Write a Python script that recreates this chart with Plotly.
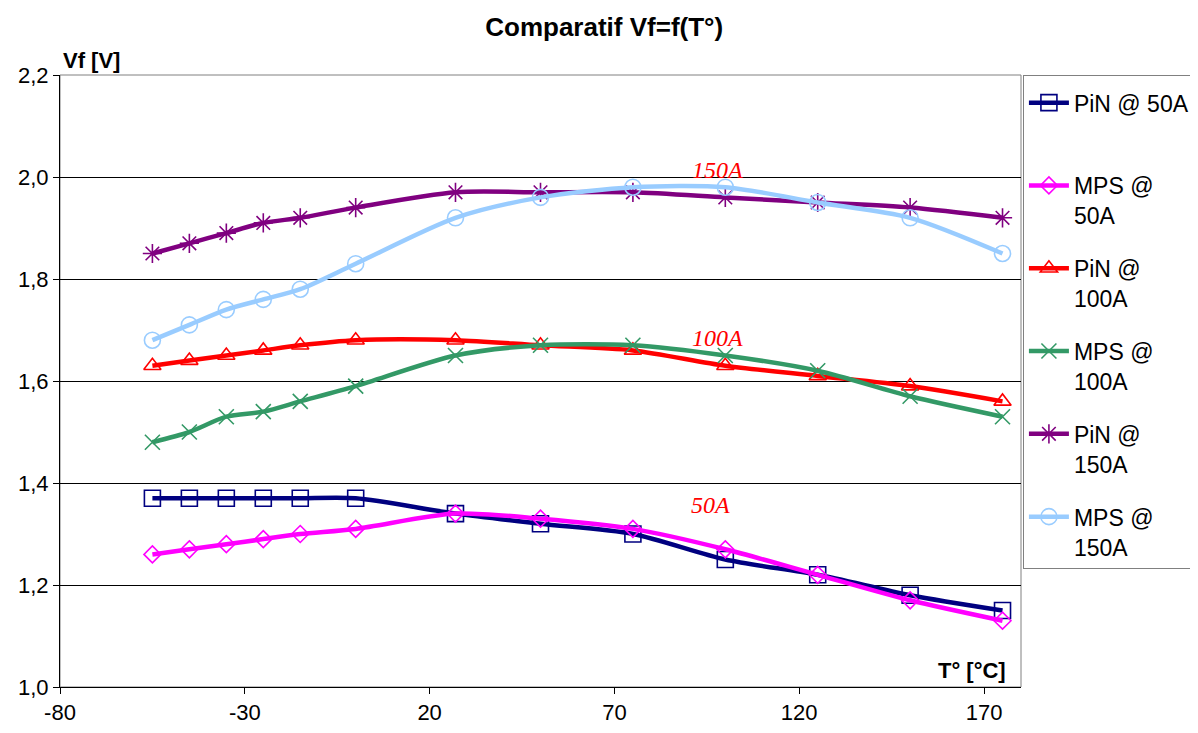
import plotly.graph_objects as go

# temperatures (°C) and forward voltage Vf (V)
temps = [-55, -45, -35, -25, -15, 0, 27, 50, 75, 100, 125, 150, 175]
pin_50 = [1.37, 1.37, 1.37, 1.37, 1.37, 1.37, 1.34, 1.32, 1.30, 1.25, 1.22, 1.18, 1.15]
mps_50 = [1.26, 1.27, 1.28, 1.29, 1.30, 1.31, 1.34, 1.33, 1.31, 1.27, 1.22, 1.17, 1.13]
pin_100 = [1.63, 1.64, 1.65, 1.66, 1.67, 1.68, 1.68, 1.67, 1.66, 1.63, 1.61, 1.59, 1.56]
mps_100 = [1.48, 1.50, 1.53, 1.54, 1.56, 1.59, 1.65, 1.67, 1.67, 1.65, 1.62, 1.57, 1.53]
pin_150 = [1.85, 1.87, 1.89, 1.91, 1.92, 1.94, 1.97, 1.97, 1.97, 1.96, 1.95, 1.94, 1.92]
mps_150 = [1.68, 1.71, 1.74, 1.76, 1.78, 1.83, 1.92, 1.96, 1.98, 1.98, 1.95, 1.92, 1.85]

series_names = ['PiN @ 50A<br>\u00a0', 'MPS @<br>50A', 'PiN @<br>100A',
                'MPS @<br>100A', 'PiN @<br>150A', 'MPS @<br>150A']
x_ticks = [-80, -30, 20, 70, 120, 170]
x_ticktext = ['-80', '-30', '20', '70', '120', '170']
labels = ['150A', '100A', '50A']
label_x = [98, 98, 96]
label_y = [2.014, 1.684, 1.357]

FONT = 'Arial, Liberation Sans, sans-serif'

styles = [
    ('#000080', 'square-open', 16),
    ('#FF00FF', 'diamond-open', 13),
    ('#FF0000', 'triangle-up-open', 15),
    ('#339966', 'x-thin-open', 15),
    ('#800080', 'asterisk-open', 16),
    ('#99CCFF', 'circle-open', 16),
]
values = [pin_50, mps_50, pin_100, mps_100, pin_150, mps_150]

fig = go.Figure()
for i, (name, vals, (col, sym, sz)) in enumerate(zip(series_names, values, styles)):
    fig.add_trace(go.Scatter(
        x=temps, y=vals, name=name, mode='lines+markers',
        line=dict(color=col, width=4.5, shape='spline', smoothing=0.8),
        marker=dict(symbol=sym, size=sz, color=col, line=dict(color=col, width=1.6)),
        legendgroup=f'g{i}',
    ))

for txt, lx, ly in zip(labels, label_x, label_y):
    fig.add_annotation(x=lx, y=ly, text=f'<i>{txt}</i>', showarrow=False,
                       font=dict(family='Times New Roman, Liberation Serif, serif', size=24, color='#FF0000'))

# axis titles placed like the original (inside corners)
fig.add_annotation(xref='paper', yref='paper', x=0, y=1, xanchor='left', yanchor='bottom',
                   xshift=1, yshift=0, text='<b>Vf [V]</b>', showarrow=False,
                   font=dict(family=FONT, size=22, color='black'))
fig.add_annotation(xref='paper', yref='paper', x=0.986, y=0, xanchor='right', yanchor='bottom',
                   yshift=2, text='<b>T° [°C]</b>', showarrow=False,
                   font=dict(family=FONT, size=22, color='black'))

# grey frame round the plot area
fig.add_shape(type='rect', xref='paper', yref='paper', x0=0, y0=0, x1=1, y1=1,
              line=dict(color='#808080', width=1), layer='below')

# page body adds an 8px margin, so the figure is 8px smaller and offsets shifted
fig.update_layout(
    width=1190, height=725,
    paper_bgcolor='white', plot_bgcolor='white',
    separators=', ',
    margin=dict(l=52, r=177, t=67, b=46, autoexpand=False),
    font=dict(family=FONT, size=22, color='black'),
    title=dict(text='<b>Comparatif Vf=f(T°)</b>', x=0.501, xref='container', xanchor='center',
               y=0.974, yanchor='middle', font=dict(family=FONT, size=26, color='black')),
    xaxis=dict(range=[-80, 180], tickvals=x_ticks, ticktext=x_ticktext, showgrid=False,
               zeroline=False, automargin=False,
               showline=True, linecolor='black', linewidth=1,
               ticks='outside', ticklen=6, tickcolor='black',
               tickfont=dict(size=22)),
    yaxis=dict(range=[1.0, 2.2], dtick=0.2, tickformat='.1f', showgrid=True, gridcolor='black',
               gridwidth=1, zeroline=False, showline=True, linecolor='black', linewidth=1,
               automargin=False,
               ticks='outside', ticklen=6, tickcolor='black', tickfont=dict(size=22)),
    legend=dict(x=1.002, y=1, xanchor='left', yanchor='top', bordercolor='#808080', borderwidth=1,
                font=dict(family=FONT, size=23), valign='top', tracegroupgap=20,
                itemwidth=40, traceorder='grouped',
                title=dict(text='\u00a0', font=dict(size=4))),
    showlegend=True,
)

fig.write_html("out.html")
